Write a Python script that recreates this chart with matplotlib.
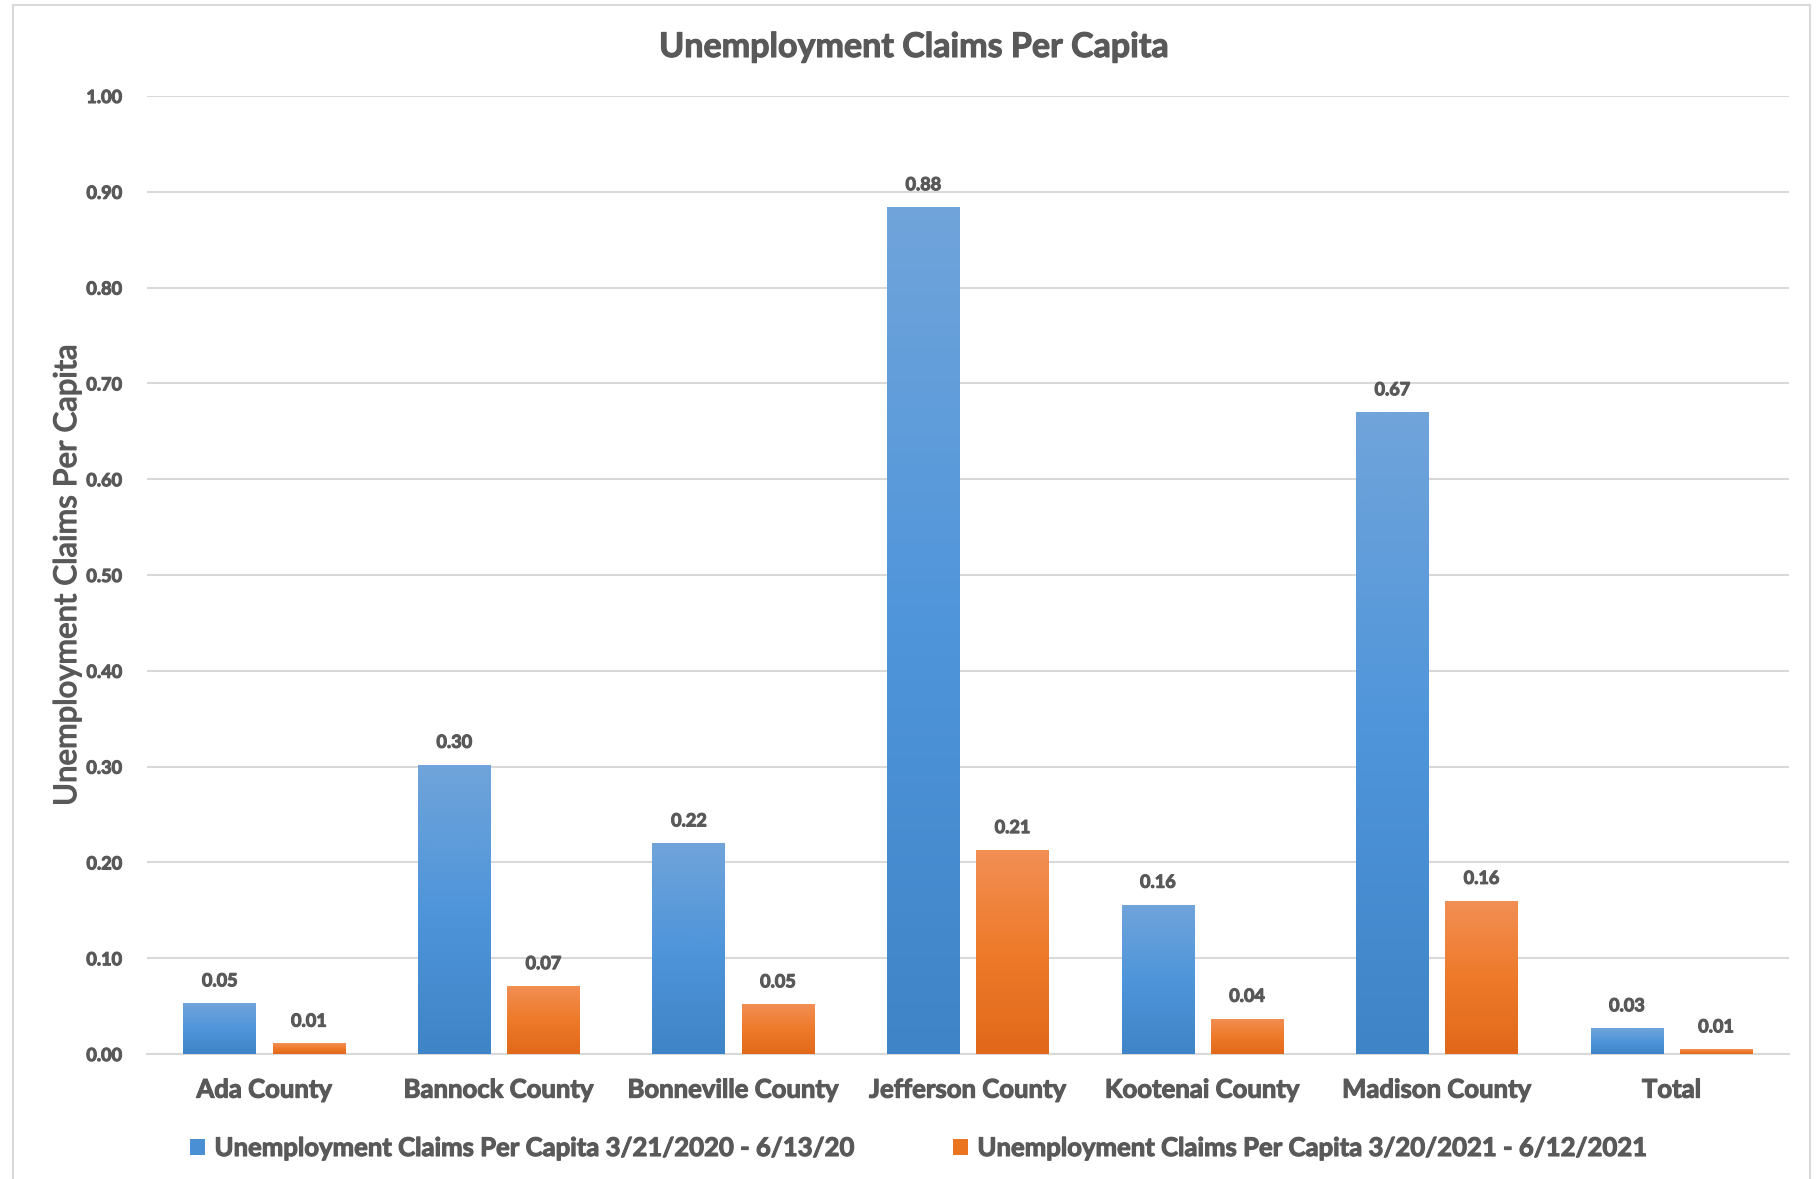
import numpy as np
import matplotlib.pyplot as plt
import matplotlib.patheffects as pe
from matplotlib.colors import LinearSegmentedColormap
from matplotlib.patches import Rectangle, Patch
from matplotlib.text import Text

# data
counties = ['Ada County', 'Bannock County', 'Bonneville County', 'Jefferson County',
            'Kootenai County', 'Madison County', 'Total']
claims_2020 = [0.053, 0.302, 0.220, 0.884, 0.156, 0.670, 0.027]
claims_2021 = [0.011, 0.071, 0.052, 0.213, 0.037, 0.160, 0.005]
labels_2020 = ['0.05', '0.30', '0.22', '0.88', '0.16', '0.67', '0.03']
labels_2021 = ['0.01', '0.07', '0.05', '0.21', '0.04', '0.16', '0.01']
series_names = ['Unemployment Claims Per Capita 3/21/2020 - 6/13/20',
                'Unemployment Claims Per Capita 3/20/2021 - 6/12/2021']

txt = '#595959'
plt.rcParams['font.family'] = ['Lato', 'DejaVu Sans']

blue_cm = LinearSegmentedColormap.from_list('b', ['#3f84c6', '#4f95da', '#70a4da'])
orange_cm = LinearSegmentedColormap.from_list('o', ['#e1681a', '#ee7a2a', '#f28f55'])

fig = plt.figure(figsize=(18.16, 11.79), dpi=100)
ax = fig.add_axes([0.081, 0.106, 0.904, 0.8126])

# outer chart border
fig.patches.append(Rectangle((13 / 1816, -0.01), 1797 / 1816, 1 - 5 / 1179 + 0.01,
                             transform=fig.transFigure, fill=False,
                             edgecolor='#d9d9d9', linewidth=1.5))

x = np.arange(len(counties))
w = 0.31
off = 0.19


def gradient_bars(xpos, vals, cmap):
    bars = ax.bar(xpos, vals, w, color='none', edgecolor='none', zorder=3)
    grad = np.linspace(0, 1, 256).reshape(-1, 1)
    for b in bars:
        x0, y0 = b.get_x(), b.get_y()
        x1, y1 = x0 + b.get_width(), y0 + b.get_height()
        im = ax.imshow(grad, cmap=cmap, aspect='auto', origin='lower',
                       extent=[x0, x1, y0, y1], zorder=3)
        im.set_clip_path(b)
    return bars


gradient_bars(x - off, claims_2020, blue_cm)
gradient_bars(x + off, claims_2021, orange_cm)

for i in range(len(counties)):
    ax.annotate(labels_2020[i], (x[i] - off, claims_2020[i]), xytext=(0, 10),
                textcoords='offset points', ha='center', va='bottom',
                fontsize=13, fontweight='bold', color=txt)
    ax.annotate(labels_2021[i], (x[i] + off, claims_2021[i]), xytext=(0, 10),
                textcoords='offset points', ha='center', va='bottom',
                fontsize=13, fontweight='bold', color=txt)

ax.set_xlim(-0.5, len(counties) - 0.5)
ax.set_ylim(0, 1.0)
ax.set_yticks(np.arange(0, 1.01, 0.1))
ax.set_yticklabels(['%.2f' % v for v in np.arange(0, 1.01, 0.1)])
ax.set_xticks(x)
ax.set_xticklabels(counties)
ax.tick_params(axis='y', length=0, pad=18, labelsize=13, labelcolor=txt)
ax.tick_params(axis='x', length=0, pad=17, labelsize=18.5, labelcolor=txt)
for lbl in ax.get_xticklabels() + ax.get_yticklabels():
    lbl.set_fontweight('bold')

ax.grid(axis='y', color='#d9d9d9', linewidth=1.5, zorder=0)
ax.set_axisbelow(True)
for s in ['top', 'right', 'left']:
    ax.spines[s].set_visible(False)
ax.spines['bottom'].set_color('#d9d9d9')
ax.spines['bottom'].set_linewidth(1.5)

fig.text(914 / 1816, 1 - 47 / 1179, 'Unemployment Claims Per Capita', ha='center',
         va='center', fontsize=24.5, fontweight='bold', color=txt)

handles = [Patch(facecolor='#4a8fd3'), Patch(facecolor='#ea7420')]
leg = fig.legend(handles, series_names, loc='center', ncol=2,
                 bbox_to_anchor=(919 / 1816, 1 - 1148 / 1179), frameon=False,
                 handlelength=0.6, handleheight=0.6, handletextpad=0.35,
                 columnspacing=3.8, prop={'size': 18.5, 'weight': 'bold'})
for t in leg.get_texts():
    t.set_color(txt)

# thicken the strokes a bit, the original uses a heavier face
for t in fig.findobj(Text):
    if t.get_text():
        t.set_path_effects([pe.withStroke(linewidth=0.8, foreground=txt)])

# axis title is a lighter weight than the rest
ylab = fig.text(67 / 1816, 1 - 575 / 1179, 'Unemployment Claims Per Capita', ha='center',
                va='center', rotation=90, fontsize=22.5, color=txt)
ylab.set_path_effects([pe.withStroke(linewidth=0.9, foreground=txt)])

fig.savefig('out.png', dpi=100)
